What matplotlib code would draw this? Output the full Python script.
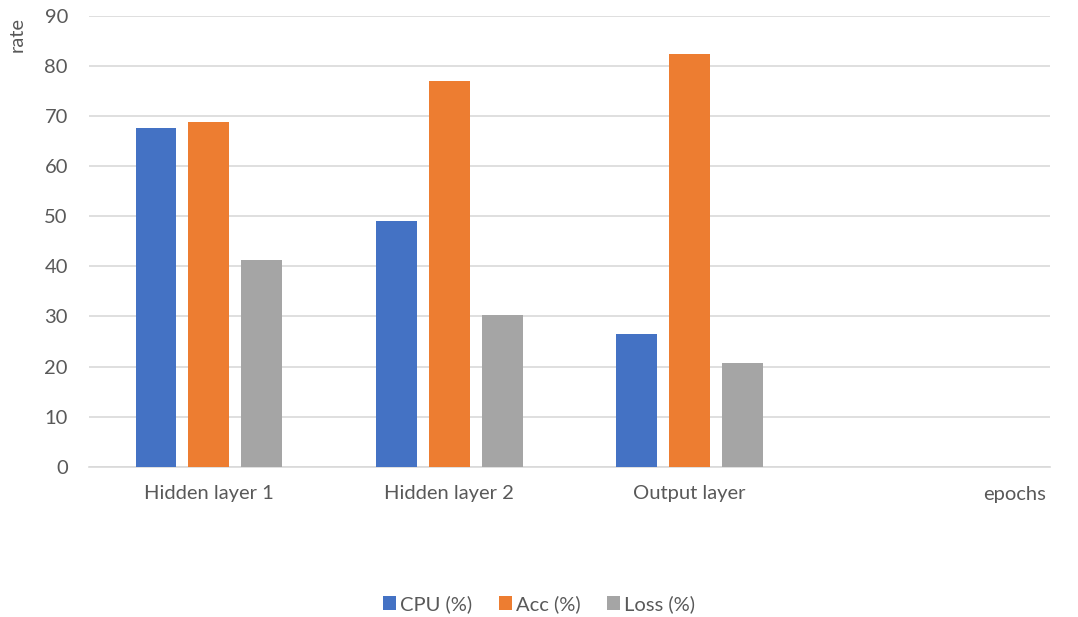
import numpy as np
import matplotlib
matplotlib.use("Agg")
import matplotlib.pyplot as plt

plt.rcParams['font.family'] = ['Lato', 'DejaVu Sans']

# data
categories = ["Hidden layer 1", "Hidden layer 2", "Output layer", ""]
cpu = [67.7, 49.1, 26.5, np.nan]
acc = [68.9, 77.1, 82.5, np.nan]
loss = [41.2, 30.3, 20.7, np.nan]
series_names = ["CPU (%)", "Acc (%)", "Loss (%)"]
colors = ["#4472C4", "#ED7D31", "#A5A5A5"]
text_col = "#595959"
fs = 14.5

fig = plt.figure(figsize=(10.78, 6.17), dpi=100)
ax = fig.add_axes([0.0823, 0.2436, 0.892, 0.7304])

x = np.arange(len(categories))
w = 0.17
step = 0.22
for k, (vals, name) in enumerate(zip([cpu, acc, loss], series_names)):
    ax.bar(x + (k - 1) * step, vals, width=w, color=colors[k], label=name, zorder=3)

ax.set_xlim(-0.5, len(categories) - 0.5)
ax.set_ylim(0, 90)
ax.set_yticks(range(0, 91, 10))
ax.set_xticks(x)
ax.set_xticklabels(categories)
ax.grid(axis="y", color="#D9D9D9", linewidth=1.2, zorder=0)
for s in ["top", "right", "left"]:
    ax.spines[s].set_visible(False)
ax.spines["bottom"].set_color("#D9D9D9")
ax.spines["bottom"].set_linewidth(1.2)
ax.tick_params(length=0, colors=text_col, labelsize=fs)
ax.tick_params(axis="x", pad=13)
ax.tick_params(axis="y", pad=15)

ax.set_ylabel("rate", color=text_col, fontsize=fs)
ax.yaxis.set_label_coords(-0.066, 0.958)
ax.text(0.996, -0.062, "epochs", transform=ax.transAxes, ha="right", va="center",
        color=text_col, fontsize=fs)

leg = fig.legend(loc="center", bbox_to_anchor=(0.5, 0.021), ncol=3, frameon=False,
                 fontsize=fs, handlelength=0.65, handleheight=0.65, handletextpad=0.2,
                 columnspacing=1.3)
for t in leg.get_texts():
    t.set_color(text_col)

fig.savefig("out.png", dpi=100, facecolor="white")
